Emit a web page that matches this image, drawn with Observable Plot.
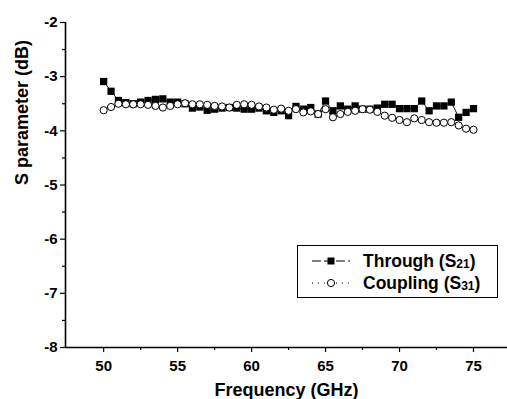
<!DOCTYPE html>
<html>
<head>
<meta charset="utf-8">
<script src="https://cdn.jsdelivr.net/npm/d3@7"></script>
<script src="https://cdn.jsdelivr.net/npm/@observablehq/plot@0.6"></script>
<style>
  html, body { margin: 0; padding: 0; background: #fff; }
  #wrap { position: relative; width: 507px; height: 399px; font-family: "Liberation Sans", Arial, sans-serif; font-weight: bold; }
  #legend { position: absolute; left: 297px; top: 245px; width: 199px; height: 51px; border: 1px solid #000; background: #fff; }
  .row { position: absolute; left: 0; height: 22px; display: flex; align-items: center; }
  .row svg { margin-left: 13px; }
  .row span { margin-left: 12px; font-size: 17.5px; color: #000; white-space: nowrap; }
  .row sub { font-size: 12px; vertical-align: -1px; }
</style>
</head>
<body>
<div id="wrap"></div>
<script>
const freqGHz = [50,50.5,51,51.5,52,52.5,53,53.5,54,54.5,55,55.5,56,56.5,57,57.5,58,58.5,59,59.5,60,60.5,61,61.5,62,62.5,63,63.5,64,64.5,65,65.5,66,66.5,67,67.5,68,68.5,69,69.5,70,70.5,71,71.5,72,72.5,73,73.5,74,74.5,75];
const throughS21 = [-3.09,-3.27,-3.44,-3.48,-3.50,-3.47,-3.44,-3.42,-3.41,-3.47,-3.47,-3.50,-3.58,-3.56,-3.62,-3.60,-3.58,-3.57,-3.58,-3.60,-3.60,-3.58,-3.63,-3.66,-3.63,-3.72,-3.55,-3.60,-3.57,-3.69,-3.45,-3.63,-3.54,-3.60,-3.54,-3.60,-3.60,-3.58,-3.51,-3.51,-3.59,-3.59,-3.59,-3.45,-3.63,-3.54,-3.54,-3.47,-3.75,-3.66,-3.59];
const couplingS31 = [-3.62,-3.56,-3.50,-3.51,-3.51,-3.51,-3.52,-3.54,-3.57,-3.54,-3.51,-3.49,-3.51,-3.51,-3.52,-3.54,-3.55,-3.57,-3.52,-3.51,-3.52,-3.55,-3.57,-3.61,-3.59,-3.63,-3.60,-3.66,-3.64,-3.69,-3.60,-3.75,-3.69,-3.65,-3.63,-3.60,-3.61,-3.65,-3.72,-3.76,-3.80,-3.84,-3.77,-3.80,-3.84,-3.85,-3.85,-3.84,-3.90,-3.96,-3.98];
const xTicks = [50,55,60,65,70,75];
const xMinorTicks = [52.5,57.5,62.5,67.5,72.5];
const yTicks = [-8,-7,-6,-5,-4,-3,-2];
const yMinorTicks = [-7.5,-6.5,-5.5,-4.5,-3.5,-2.5];
const xDomain = [47.42, 77.3];
const yDomain = [-8, -2];
const xTitle = "Frequency (GHz)";
const yTitle = "S parameter (dB)";

const through = freqGHz.map((f, i) => ({f, v: throughS21[i]}));
const coupling = freqGHz.map((f, i) => ({f, v: couplingS31[i]}));

const chart = Plot.plot({
  width: 507,
  height: 399,
  marginLeft: 65,
  marginRight: 0,
  marginTop: 22,
  marginBottom: 52,
  x: {domain: xDomain},
  y: {domain: yDomain},
  style: {fontFamily: "Liberation Sans, Arial, sans-serif", fontWeight: "bold", color: "#000", background: "#fff", overflow: "visible"},
  marks: [
    Plot.axisX(xTicks, {tickSize: 5, tickPadding: 8, tickFormat: d => String(d), fontSize: 15, fontWeight: "bold", label: null, strokeWidth: 1.2}),
    Plot.axisX(xMinorTicks, {tickSize: 3, tickFormat: () => "", label: null, strokeWidth: 1.2}),
    Plot.axisY(yTicks, {tickSize: 5, tickPadding: 3, tickFormat: d => String(d), fontSize: 15, fontWeight: "bold", label: null, strokeWidth: 1.2}),
    Plot.axisY(yMinorTicks, {tickSize: 3, tickFormat: () => "", label: null, strokeWidth: 1.2}),
    Plot.ruleY([yDomain[0]], {stroke: "#000", strokeWidth: 1.6}),
    Plot.ruleX([xDomain[0]], {stroke: "#000", strokeWidth: 1.6}),
    Plot.text([xTitle], {frameAnchor: "bottom", dy: 48, fontSize: 18, fontWeight: "bold", fill: "#000"}),
    Plot.text([yTitle], {frameAnchor: "left", rotate: -90, dx: -43, fontSize: 18, fontWeight: "bold", fill: "#000"}),
    Plot.line(through, {x: "f", y: "v", stroke: "#000", strokeWidth: 0.9}),
    Plot.dot(through, {x: "f", y: "v", symbol: "square", r: 4.1, fill: "#000", stroke: "none"}),
    Plot.line(coupling, {x: "f", y: "v", stroke: "#000", strokeWidth: 0.9, strokeDasharray: "1,2"}),
    Plot.dot(coupling, {x: "f", y: "v", symbol: "circle", r: 3.6, fill: "#fff", stroke: "#000", strokeWidth: 1})
  ]
});

const wrap = document.getElementById("wrap");
wrap.appendChild(chart);

const legend = document.createElement("div");
legend.id = "legend";
legend.innerHTML = `
  <div class="row" style="top:4px">
    <svg width="40" height="12"><line x1="1" y1="6" x2="39" y2="6" stroke="#000" stroke-width="1" stroke-dasharray="9,3"/><rect x="16.5" y="2.5" width="7" height="7" fill="#000"/></svg>
    <span>Through (S<sub>21</sub>)</span>
  </div>
  <div class="row" style="top:26px">
    <svg width="40" height="12"><line x1="1" y1="6" x2="39" y2="6" stroke="#000" stroke-width="1" stroke-dasharray="1,5"/><circle cx="20" cy="6" r="3.6" fill="#fff" stroke="#000" stroke-width="1"/></svg>
    <span>Coupling (S<sub>31</sub>)</span>
  </div>`;
wrap.appendChild(legend);
</script>
</body>
</html>
